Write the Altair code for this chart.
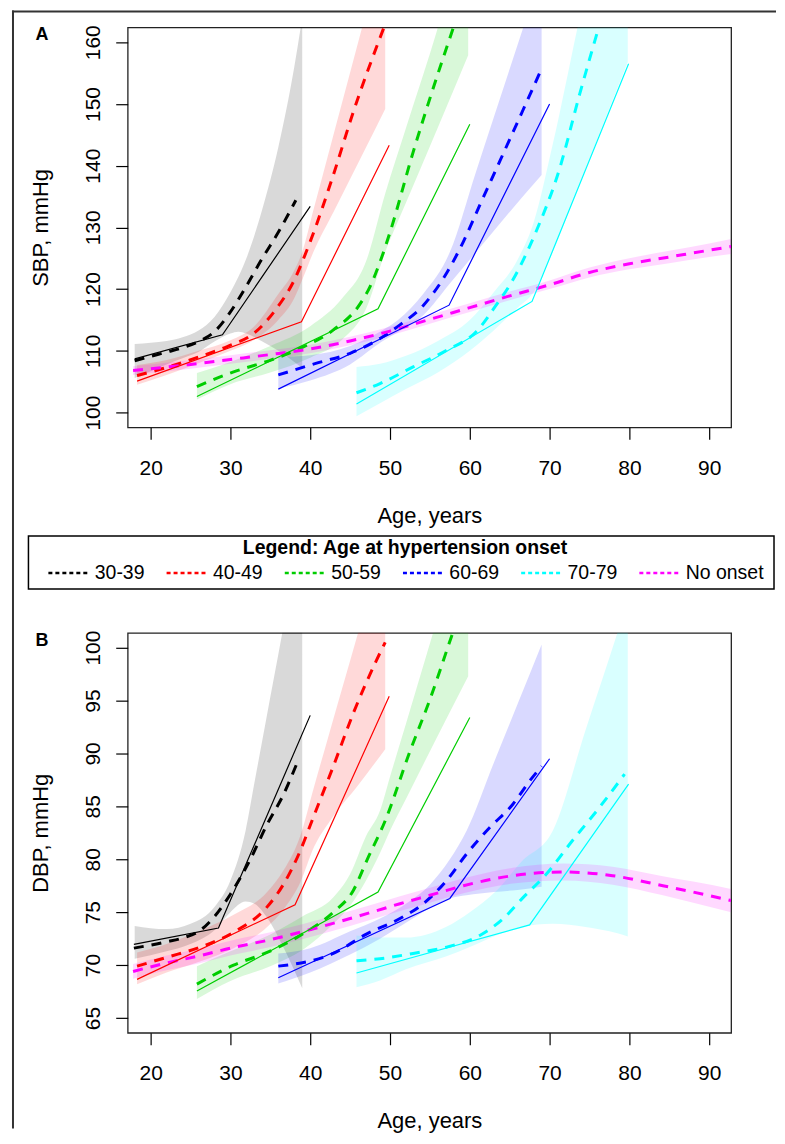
import altair as alt
import pandas as pd

FONT = "Liberation Sans"
GROUPS = ["30-39", "40-49", "50-59", "60-69", "70-79", "No onset"]
COLORS = ["#000000", "#FF0000", "#00CD00", "#0000FF", "#00FFFF", "#FF00FF"]

X_DOMAIN = [17.125, 92.75]
X_TICKS = [20, 30, 40, 50, 60, 70, 80, 90]
SBP_DOMAIN = [97.6, 162.4]
SBP_TICKS = [100, 110, 120, 130, 140, 150, 160]
DBP_DOMAIN = [63.6, 101.4]
DBP_TICKS = [65, 70, 75, 80, 85, 90, 95, 100]

# ---------------- Panel A: SBP ----------------
SBP_3039_MEAN = [(18, 108.4), (20, 109.1), (22, 109.8), (24, 110.5), (26, 111.5), (28, 113.1),
                 (30, 116.3), (32, 120.5), (34, 125.0), (36, 129.2), (38.2, 134.4)]
SBP_3039_BAND = [(18, 105.6, 111.1), (20, 106.7, 111.3), (22, 107.8, 111.6), (24, 108.8, 112.2),
                 (26, 109.8, 113.3), (28, 111.5, 115.5), (30, 112.8, 119.5), (31, 113.1, 122.0),
                 (32, 112.8, 125.0), (34, 111.5, 133.0), (36, 110.0, 143.0), (38, 108.2, 156.0),
                 (39, 107.2, 164.0)]
SBP_3039_OBS = [(18, 108.7), (29, 112.6), (40, 133.4)]

SBP_4049_MEAN = [(18.3, 106.0), (22, 107.3), (26, 109.0), (29.6, 110.7), (33, 112.9), (35.8, 116.9),
                 (37.9, 121.2), (40, 127.7), (42.9, 138.5), (45.4, 148.7), (49.3, 162.6)]
SBP_4049_BAND = [(18.3, 104.5, 107.7), (22, 106.1, 108.5), (26, 108.0, 110.0), (30, 110.0, 111.7),
                 (33, 111.8, 114.0), (36, 115.0, 119.2), (38, 118.5, 123.0), (39, 121.5, 126.0),
                 (40.4, 126.0, 132.8), (43, 132.7, 145.4), (46.5, 141.7, 162.4), (49.4, 149.2, 176.5)]
SBP_4049_OBS = [(18.3, 105.1), (38.9, 114.7), (49.9, 143.3)]

SBP_5059_MEAN = [(25.8, 104.2), (30.4, 106.6), (34.6, 108.3), (38.75, 110.4), (42.9, 113.4),
                 (46.25, 117.6), (47.5, 120.4), (48.75, 124.4), (50, 129.2), (52.9, 142.2),
                 (55.4, 152.5), (58.0, 162.6)]
SBP_5059_BAND = [(25.8, 102.1, 106.4), (30, 104.6, 108.2), (35, 106.5, 110.8), (40, 108.9, 114.0),
                 (44, 111.8, 118.5), (47, 116.8, 124.5), (49.4, 126.0, 135.5), (52, 134.0, 146.1),
                 (56, 146.2, 162.4), (59.8, 157.9, 180.0)]
SBP_5059_OBS = [(25.8, 102.6), (48.5, 116.8), (60.0, 146.7)]

SBP_6069_MEAN = [(36, 106.1), (40.8, 108.0), (45, 109.6), (48.75, 112.0), (51.25, 114.2), (54.2, 117.4),
                 (57.1, 122.6), (59.2, 127.7), (61.25, 133.6), (63.75, 140.7), (66.7, 149.1), (69, 155.7)]
SBP_6069_BAND = [(36, 103.9, 109.0), (40, 105.2, 109.3), (45, 107.8, 110.8), (49, 111.5, 113.3),
                 (51, 113.0, 115.0), (54.2, 115.8, 119.3), (57.5, 120.9, 126.0), (60.8, 126.0, 139.1),
                 (63, 129.4, 147.8), (66.7, 135.1, 162.4), (69, 138.5, 171.5)]
SBP_6069_OBS = [(36, 103.8), (57.4, 117.4), (70, 150.0)]

SBP_7079_MEAN = [(45.8, 103.2), (48.75, 104.7), (52.9, 107.4), (57.1, 110.1), (60.8, 113.1), (63.3, 117.4),
                 (65.4, 121.5), (68.2, 129.0), (71.25, 139.5), (73.75, 151.5), (76.2, 162.6)]
SBP_7079_BAND = [(45.8, 99.4, 107.4), (48.75, 101.5, 107.9), (52, 103.8, 109.2), (56, 106.5, 111.6),
                 (60, 110.0, 115.0), (63, 113.3, 119.5), (66, 117.0, 124.8), (68, 119.5, 130.8),
                 (70.4, 126.0, 143.5), (73.5, 136.2, 162.4), (79.8, 156.8, 200.0)]
SBP_7079_OBS = [(45.8, 101.4), (67.8, 118.0), (79.9, 156.5)]

SBP_NONE_MEAN = [(17.8, 106.8), (25, 107.8), (30, 108.6), (35, 109.4), (40, 110.3), (45, 111.6),
                 (50, 113.2), (55, 115.1), (60, 117.0), (65, 118.9), (70, 120.7), (75, 122.7),
                 (80, 124.1), (85, 125.2), (90, 126.3), (92.75, 126.9)]
SBP_NONE_BAND = [(17.8, 106.1, 107.5), (25, 107.1, 108.5), (30, 107.9, 109.3), (35, 108.7, 110.1),
                 (40, 109.6, 111.0), (45, 110.9, 112.3), (50, 112.5, 113.9), (55, 114.4, 115.8),
                 (60, 116.3, 117.7), (65, 118.2, 119.6), (70, 120.0, 121.4), (75, 121.9, 123.5),
                 (80, 123.2, 125.0), (85, 124.2, 126.2), (90, 125.2, 127.4), (92.75, 125.7, 128.1)]

# ---------------- Panel B: DBP ----------------
DBP_3039_MEAN = [(17.9, 71.6), (22, 72.2), (24.2, 72.6), (26.25, 73.3), (27.9, 74.5), (30, 76.7),
                 (32.5, 80.0), (34.6, 83.3), (36.7, 86.2), (38.3, 89.0)]
DBP_3039_BAND = [(18, 70.6, 73.7), (22, 71.3, 73.4), (25, 72.0, 73.9), (28, 73.3, 75.5), (30, 75.0, 78.0),
                 (31.9, 76.0, 82.7), (33, 75.8, 87.2), (34.5, 74.6, 93.3), (36.5, 71.9, 101.4), (39, 67.8, 112.0)]
DBP_3039_OBS = [(17.9, 71.95), (28.5, 73.5), (40, 93.6)]

DBP_4049_MEAN = [(18.3, 69.9), (22.1, 70.75), (26.25, 71.7), (30.4, 73.1), (34.6, 75.5), (36.7, 77.7),
                 (38.75, 80.8), (40.2, 83.6), (42.9, 88.8), (45.4, 93.8), (48.3, 98.8), (49.4, 100.5)]
DBP_4049_BAND = [(18.3, 68.2, 71.2), (22, 69.3, 72.0), (26, 70.3, 73.2), (30.4, 71.6, 74.75),
                 (34.6, 73.6, 76.9), (36.7, 75.3, 79.0), (38.75, 77.8, 82.2), (40.5, 81.2, 86.9),
                 (42.5, 83.65, 92.2), (46, 87.0, 101.4), (49.4, 90.4, 110.5)]
DBP_4049_OBS = [(18.3, 68.65), (38.1, 75.7), (49.9, 95.4)]

DBP_5059_MEAN = [(25.8, 68.2), (30.4, 70.0), (34.6, 71.2), (38.75, 72.8), (42.9, 75.0), (45.4, 77.05),
                 (47.1, 79.9), (49.4, 83.65), (52.5, 90.2), (55, 95.1), (57.5, 100.6), (58.0, 101.7)]
DBP_5059_BAND = [(25.8, 66.8, 69.9), (30, 68.5, 71.3), (35, 69.9, 72.9), (39, 71.4, 74.6), (42.9, 73.9, 76.4),
                 (45, 75.6, 78.6), (47, 78.0, 82.2), (48.75, 80.6, 84.6), (50, 82.7, 87.8), (52, 85.7, 92.8),
                 (55.4, 90.8, 101.4), (59.8, 97.3, 112.5)]
DBP_5059_OBS = [(25.8, 67.55), (48.5, 76.9), (60, 93.4)]

DBP_6069_MEAN = [(36, 69.9), (42.9, 71.1), (47.1, 72.95), (51.25, 74.4), (54, 75.7), (57.1, 78.0),
                 (59.6, 80.5), (62.5, 83.0), (65.4, 85.2), (67.5, 87.4), (69, 88.8)]
DBP_6069_BAND = [(36, 68.25, 71.1), (40, 69.3, 71.6), (45, 71.0, 73.2), (48.75, 72.5, 74.4), (52, 74.0, 75.8),
                 (55, 75.4, 77.6), (57.5, 76.3, 80.0), (59.6, 76.6, 82.7), (63, 76.9, 89.1), (66, 77.1, 94.7),
                 (69, 77.4, 100.3)]
DBP_6069_OBS = [(36, 68.8), (57.5, 76.3), (70, 89.5)]

DBP_7079_MEAN = [(45.8, 70.4), (48.75, 70.6), (52.9, 71.1), (57.1, 71.7), (61.25, 72.8), (64.2, 74.4),
                 (66.7, 76.4), (69.6, 78.6), (72.9, 81.8), (76.25, 84.9), (79.4, 88.05)]
DBP_7079_BAND = [(45.8, 67.9, 72.8), (48.75, 68.55, 72.6), (52, 69.6, 72.6), (57, 70.8, 73.6), (60, 71.7, 75.0),
                 (63.3, 72.8, 77.0), (66.5, 73.6, 79.8), (70.4, 73.9, 82.7), (74.5, 73.6, 92.2),
                 (78.5, 73.0, 101.4), (79.8, 72.7, 104.5)]
DBP_7079_OBS = [(45.8, 69.25), (67.5, 73.8), (79.9, 87.1)]

DBP_NONE_MEAN = [(17.8, 69.4), (22, 70.2), (26.25, 70.9), (30, 71.6), (35, 72.4), (38.75, 73.1), (45, 74.4),
                 (51.25, 75.8), (55, 76.6), (59.2, 77.5), (65.4, 78.45), (71.7, 78.8), (77.9, 78.45),
                 (84.2, 77.5), (88, 76.9), (92.75, 76.1)]
DBP_NONE_BAND = [(17.8, 68.7, 70.1), (22, 69.5, 70.9), (26.25, 70.2, 71.6), (30, 70.9, 72.3), (35, 71.7, 73.1),
                 (38.75, 72.4, 73.8), (45, 73.7, 75.1), (51.25, 75.1, 76.5), (55, 75.9, 77.3), (59.2, 76.8, 78.2),
                 (65.4, 77.7, 79.2), (71.7, 78.0, 79.6), (77.9, 77.6, 79.3), (84.2, 76.6, 78.4),
                 (88, 75.9, 77.9), (92.75, 75.0, 77.2)]


def line_frame(series):
    rows = []
    for g, pts in series:
        for a, v in pts:
            rows.append({"group": g, "age": a, "value": v})
    return pd.DataFrame(rows)


def band_frame(series):
    rows = []
    for g, pts in series:
        for a, lo, hi in pts:
            rows.append({"group": g, "age": a, "lo": lo, "hi": hi})
    return pd.DataFrame(rows)


sbp_mean = line_frame(zip(GROUPS, [SBP_3039_MEAN, SBP_4049_MEAN, SBP_5059_MEAN, SBP_6069_MEAN,
                                   SBP_7079_MEAN, SBP_NONE_MEAN]))
sbp_band = band_frame(zip(GROUPS, [SBP_3039_BAND, SBP_4049_BAND, SBP_5059_BAND, SBP_6069_BAND,
                                   SBP_7079_BAND, SBP_NONE_BAND]))
sbp_obs = line_frame(zip(GROUPS[:5], [SBP_3039_OBS, SBP_4049_OBS, SBP_5059_OBS, SBP_6069_OBS, SBP_7079_OBS]))

dbp_mean = line_frame(zip(GROUPS, [DBP_3039_MEAN, DBP_4049_MEAN, DBP_5059_MEAN, DBP_6069_MEAN,
                                   DBP_7079_MEAN, DBP_NONE_MEAN]))
dbp_band = band_frame(zip(GROUPS, [DBP_3039_BAND, DBP_4049_BAND, DBP_5059_BAND, DBP_6069_BAND,
                                   DBP_7079_BAND, DBP_NONE_BAND]))
dbp_obs = line_frame(zip(GROUPS[:5], [DBP_3039_OBS, DBP_4049_OBS, DBP_5059_OBS, DBP_6069_OBS, DBP_7079_OBS]))

ONE = pd.DataFrame({"k": [0]})
W, H = 605, 401


def panel(mean_df, band_df, obs_df, ydomain, yticks, ytitle, label, legend):
    cscale = alt.Scale(domain=GROUPS, range=COLORS)
    xenc = alt.X("age:Q", scale=alt.Scale(domain=X_DOMAIN, nice=False, zero=False),
                 axis=alt.Axis(values=X_TICKS, title="Age, years", labelPadding=18, labelFlush=False,
                               labelFontSize=21, titleX=W / 2, titleY=88, titleBaseline="middle",
                               titleAlign="center"))
    yscale = alt.Scale(domain=ydomain, nice=False, zero=False)
    yaxis = alt.Axis(values=yticks, title=ytitle, labelAngle=270, labelAlign="center",
                     labelBaseline="alphabetic", labelPadding=16, labelFlush=False, labelFontSize=21,
                     titleX=-87, titleY=H / 2, titleAngle=270, titleBaseline="middle", titleAlign="center")

    bands = alt.Chart(band_df).mark_area(opacity=0.15, clip=True, interpolate="monotone").encode(
        x=xenc, y=alt.Y("lo:Q", scale=yscale, axis=yaxis, title=ytitle), y2="hi:Q",
        color=alt.Color("group:N", scale=cscale, legend=None))
    means = alt.Chart(mean_df).mark_line(strokeWidth=3, strokeDash=[10, 8], clip=True,
                                         interpolate="monotone").encode(
        x=xenc, y=alt.Y("value:Q", scale=yscale, axis=yaxis, title=ytitle),
        color=alt.Color("group:N", scale=cscale, legend=legend))
    obs = alt.Chart(obs_df).mark_line(strokeWidth=1.2, clip=True).encode(
        x=xenc, y=alt.Y("value:Q", scale=yscale, axis=yaxis, title=ytitle),
        color=alt.Color("group:N", scale=cscale, legend=None))
    tag = alt.Chart(ONE).mark_text(text=label, font=FONT, fontSize=18, fontWeight="bold",
                                   color="black", align="center", baseline="middle").encode(
        x=alt.value(-86), y=alt.value(8))
    return [bands, means, obs, tag]


legend = alt.Legend(title="Legend: Age at hypertension onset", orient="none", legendX=-81, legendY=513,
                    direction="horizontal", columns=6, symbolType="stroke", symbolSize=1600,
                    symbolStrokeWidth=2.5, symbolDash=[4, 3], labelFont=FONT, labelFontSize=19.5,
                    labelColor="black", titleFont=FONT, titleFontSize=19.5, titleFontWeight="bold",
                    titleColor="black", titleAnchor="middle", titlePadding=-7, titleLimit=800,
                    labelLimit=300, labelOffset=5, columnPadding=16.5, padding=0, gridAlign="each")

a_layers = panel(sbp_mean, sbp_band, sbp_obs, SBP_DOMAIN, SBP_TICKS, "SBP, mmHg", "A", legend)
frame_top = alt.Chart(ONE).mark_rect(color="#333333").encode(
    x=alt.value(-116), x2=alt.value(650), y=alt.value(-17), y2=alt.value(-15))
frame_left = alt.Chart(ONE).mark_rect(color="#333333").encode(
    x=alt.value(-116), x2=alt.value(-114), y=alt.value(-17), y2=alt.value(1104))
legend_box = alt.Chart(ONE).mark_rect(fillOpacity=0, stroke="black", strokeWidth=1.5).encode(
    x=alt.value(-99.5), x2=alt.value(648), y=alt.value(510), y2=alt.value(563))

panel_a = alt.layer(*a_layers, frame_top, frame_left, legend_box).resolve_legend(
    color="independent").properties(width=W, height=H)
panel_b = alt.layer(*panel(dbp_mean, dbp_band, dbp_obs, DBP_DOMAIN, DBP_TICKS, "DBP, mmHg", "B", None)
                    ).properties(width=W, height=H)

chart = alt.vconcat(panel_a, panel_b, spacing=206, bounds="flush").properties(
    padding={"left": 3, "top": 0, "right": 0, "bottom": 0}
).configure_view(stroke="#222222", strokeWidth=1.3).configure_axis(
    grid=False, domain=False, tickColor="black", tickSize=12, tickWidth=1.2,
    labelFont=FONT, labelColor="black", titleFont=FONT, titleFontSize=22,
    titleFontWeight="normal", titleColor="black"
)

chart.save("out.html", embed_options={"renderer": "svg", "actions": False})
